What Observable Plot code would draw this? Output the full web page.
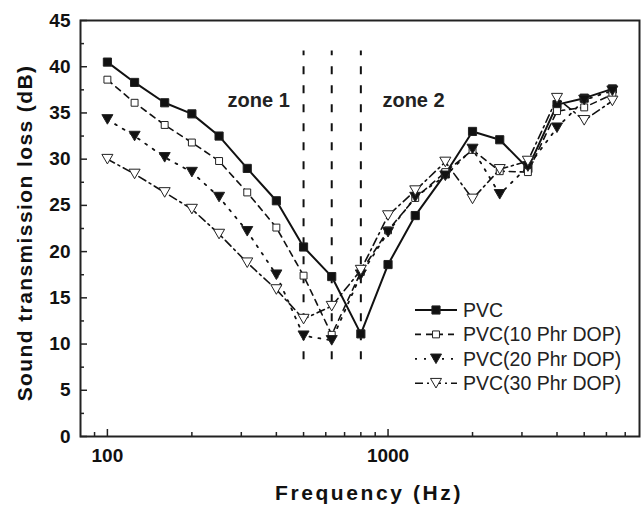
<!DOCTYPE html>
<html><head><meta charset="utf-8">
<script src="https://cdn.jsdelivr.net/npm/d3@7"></script>
<script src="https://cdn.jsdelivr.net/npm/@observablehq/plot@0.6"></script>
<style>body{margin:0;background:#fff} svg{display:block}</style>
</head><body><div id="chart"></div>
<script>
// ---- data ----
const frequencies = [100,125,160,200,250,315,400,500,630,800,1000,1250,1600,2000,2500,3150,4000,5000,6300];
const pvc   = [40.5,38.3,36.1,34.9,32.5,29.0,25.5,20.5,17.3,11.1,18.6,23.9,28.4,33.0,32.1,29.0,35.9,36.6,37.6];
const pvc10 = [38.6,36.1,33.7,31.8,29.8,26.4,22.6,17.4,11.0,17.8,22.3,25.8,28.6,31.0,28.7,28.6,35.2,35.6,37.0];
const pvc20 = [34.3,32.5,30.2,28.6,25.9,22.2,17.5,10.9,10.4,17.5,22.1,25.9,28.2,31.1,26.2,29.2,33.4,36.4,37.4];
const pvc30 = [30.0,28.4,26.4,24.6,21.9,18.8,15.9,12.7,14.1,18.0,23.9,26.6,29.7,25.7,28.9,29.8,36.6,34.2,36.3];
const seriesNames = ["PVC","PVC(10 Phr DOP)","PVC(20 Phr DOP)","PVC(30 Phr DOP)"];
const seriesValues = [pvc, pvc10, pvc20, pvc30];
const zoneFreqs = [500, 630, 800];
const zoneLabels = [{text:"zone 1", f:268, v:36.3},{text:"zone 2", f:955, v:36.3}];
const yTicks = [0,5,10,15,20,25,30,35,40,45];
const yMinor = [2.5,7.5,12.5,17.5,22.5,27.5,32.5,37.5,42.5];
const xTicks = [100,1000];
const xMinor = [90,200,300,400,500,600,700,800,900,2000,3000,4000,5000,6000,7000];
const xTitle = "Frequency (Hz)";
const yTitle = "Sound transmission loss (dB)";

// ---- styles ----
const triangleDown = {draw(ctx, size){
  const s = Math.sqrt(size / (Math.sqrt(3)/4)); const h = s*Math.sqrt(3)/2;
  ctx.moveTo(-s/2,-h/2); ctx.lineTo(s/2,-h/2); ctx.lineTo(0,h/2); ctx.closePath();
}};
const styles = [
  {dash:null, width:2, symbol:"square", fill:"#111", r:4.6},
  {dash:"6,5", width:1.6, symbol:"square", fill:"white", r:3.9},
  {dash:"2,7", width:1.8, symbol:triangleDown, fill:"#111", r:4.1},
  {dash:"8,4,2,4", width:1.6, symbol:triangleDown, fill:"white", r:4.1}
];

const rows = seriesNames.flatMap((name, si) => frequencies.map((f, i) => ({series:name, f, v: seriesValues[si][i]})));

const FONT = "Liberation Sans, Arial, Helvetica, sans-serif";
const marks = [
  Plot.ruleX(zoneFreqs, {y1: 8.3, y2: 41.7, stroke:"#111", strokeWidth:2, strokeDasharray:"8,11"}),
  Plot.text(zoneLabels, {x:"f", y:"v", text:"text", textAnchor:"start", fontSize:20, fontWeight:"bold", fill:"#222"})
];
seriesNames.forEach((name, si) => {
  const st = styles[si];
  const d = rows.filter(r => r.series === name);
  marks.push(Plot.line(d, {x:"f", y:"v", stroke:"#111", strokeWidth:st.width, strokeDasharray:st.dash}));
});
seriesNames.forEach((name, si) => {
  const st = styles[si];
  const d = rows.filter(r => r.series === name);
  marks.push(Plot.dot(d, {x:"f", y:"v", symbol:st.symbol, fill:st.fill, stroke:"#222", strokeWidth:1, r:st.r}));
});
marks.push(
  Plot.frame({stroke:"#222", strokeWidth:2}),
  Plot.axisY({ticks:yTicks, tickSize:-7, tickFormat:()=>"", label:null, strokeWidth:1.5, stroke:"#222"}),
  Plot.axisY({ticks:yMinor, tickSize:-4, tickFormat:()=>"", label:null, strokeWidth:1.5, stroke:"#222"}),
  Plot.axisY({ticks:yTicks, tickSize:0, tickPadding:10, label:null, fontSize:19, fontWeight:"bold", fill:"#111"}),
  Plot.axisX({ticks:xTicks, tickSize:-7, tickFormat:()=>"", label:null, strokeWidth:1.5, stroke:"#222"}),
  Plot.axisX({ticks:xMinor, tickSize:-4, tickFormat:()=>"", label:null, strokeWidth:1.5, stroke:"#222"}),
  Plot.axisX({ticks:xTicks, tickSize:0, tickPadding:12, tickFormat:d=>String(d), label:null, fontSize:19, fontWeight:"bold", fill:"#111"})
);

const plot = Plot.plot({
  width:642, height:507,
  marginLeft:80, marginRight:3, marginTop:20, marginBottom:71,
  style:{fontFamily:FONT, background:"white", color:"#111"},
  x:{type:"log", domain:[80.2, 7870], label:null},
  y:{domain:[0,45], label:null},
  marks
});

// axis titles and legend
const svg = d3.select(plot);
svg.append("text").text(xTitle)
  .attr("x", 369).attr("y", 500).attr("text-anchor","middle")
  .style("font", `bold 21px ${FONT}`).style("letter-spacing","2.6px").attr("fill","#111");
svg.append("text").text(yTitle)
  .attr("transform","translate(32,233) rotate(-90)").attr("text-anchor","middle")
  .style("font", `bold 21px ${FONT}`).style("letter-spacing","1.4px").attr("fill","#111");

const lg = svg.append("g").attr("text-anchor","start");
seriesNames.forEach((name, i) => {
  const st = styles[i];
  const y = 310 + i*24.4;
  lg.append("line").attr("x1",415).attr("x2",457).attr("y1",y).attr("y2",y)
    .attr("stroke","#111").attr("stroke-width",st.width).attr("stroke-dasharray", st.dash);
  const sym = st.symbol === "square" ? d3.symbolSquare : st.symbol;
  lg.append("path").attr("d", d3.symbol(sym, Math.PI*st.r*st.r)())
    .attr("transform",`translate(436,${y})`).attr("fill",st.fill).attr("stroke","#222").attr("stroke-width",1);
  lg.append("text").text(name).attr("x",463).attr("y",y).attr("dy","0.35em").attr("text-anchor","start")
    .style("font", `19.5px ${FONT}`).attr("fill","#222");
});

document.getElementById("chart").appendChild(plot);
</script>
</body></html>
